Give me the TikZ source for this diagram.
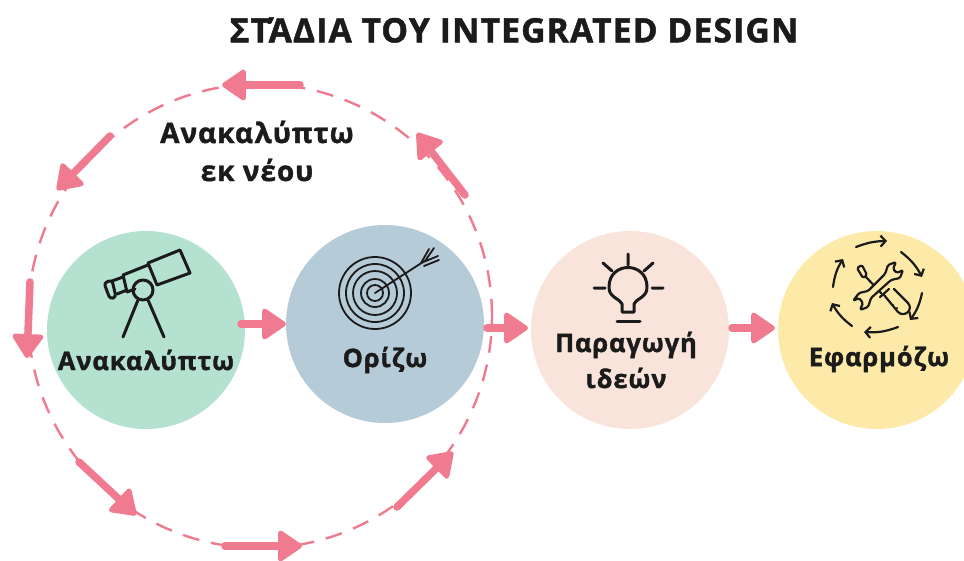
\documentclass[tikz,border=0pt]{standalone}
\usepackage{fontspec}
\setmainfont{Open Sans}[BoldFont={Open Sans Bold},BoldFeatures={FakeBold=1.4},LetterSpace=3.5]
\usetikzlibrary{arrows.meta}
\definecolor{flowpink}{HTML}{F07B90}
\definecolor{ink}{HTML}{1B1B1B}
\definecolor{applyyellow}{HTML}{FDE9A8}
\tikzset{
disc/.style={circle,minimum size=198pt,inner sep=0,outer sep=0},
caption/.style={font=\bfseries\fontsize{25.5}{36}\selectfont,text=ink,align=center,inner sep=0},
flow/.style={flowpink,line width=7.5pt,line cap=round,-{Triangle[round,line width=5pt,length=26pt,width=34pt]}},
icon/.style={ink,line width=3pt,line cap=round,line join=round},
thin icon/.style={ink,line width=1.8pt,line cap=round,line join=round},
cycle arrow/.style={ink,line width=2.2pt,line cap=round,-{Straight Barb[length=5pt,width=11pt,line width=2.2pt]}}
}
\begin{document}
\begin{tikzpicture}[x=1pt,y=-1pt]
\useasboundingbox (0,0) rectangle (964,560);
\clip (0,0) rectangle (964,560);
\node[font=\bfseries\fontsize{33.6}{38}\selectfont,text=ink,inner sep=0] (title) at (514,30) {ΣΤΆΔΙΑ ΤΟΥ INTEGRATED DESIGN};
\node[circle,draw=flowpink,line width=2.4pt,dash pattern=on 17pt off 12pt,minimum size=464pt,inner sep=0] (ring) at (260,316) {};
\node[disc,fill={rgb,255:red,181;green,225;blue,208}] (discover) at (146,330) {};
\node[disc,fill={rgb,255:red,181;green,203;blue,216}] (define) at (385,324) {};
\node[disc,fill={rgb,255:red,249;green,228;blue,219}] (ideate) at (630,330) {};
\node[disc,fill=applyyellow] (apply) at (877,330) {};
\node[caption] (discoverlabel) at (146,360) {Ανακαλύπτω};
\node[caption] (definelabel) at (385,360) {Ορίζω};
\node[caption] (ideatelabel) at (626,360) {Παραγωγή\\ιδεών};
\node[caption] (applylabel) at (879,359) {Εφαρμόζω};
\node[caption,font=\bfseries\fontsize{28}{38}\selectfont] (againlabel) at (257,151) {Ανακαλύπτω\\εκ νέου};
\coordinate (a1) at (300,85); \coordinate (b1) at (222,85);
\coordinate (a2) at (110,136); \coordinate (b2) at (57,190);
\coordinate (a3) at (30,282); \coordinate (b3) at (27,358);
\coordinate (a4) at (79,462); \coordinate (b4) at (136,515);
\coordinate (a5) at (225,546); \coordinate (b5) at (302,546);
\coordinate (a6) at (397,507); \coordinate (b6) at (453,452);
\coordinate (a7) at (465,195); \coordinate (b7) at (417,133);
\foreach \i in {1,...,7}{\draw[flow] (a\i) -- (b\i);}
\draw[flow,shorten <=-4pt] (discover.east |- define.west) -- (define.west);
\coordinate (c1) at (487,328); \coordinate (c2) at (ideate.west |- c1);
\coordinate (c3) at (732,328); \coordinate (c4) at (apply.west |- c3);
\draw[flow,shorten >=3pt] (c1) -- (c2);
\draw[flow,shorten >=3pt] (c3) -- (c4);
\draw[icon] (148,263) -- (180,250) -- (190,273) -- (157,285) -- cycle;
\draw[icon] (123,275) -- (148,265) (127,292) -- (135,289) (123,275) -- (127,292);
\draw[icon,rounded corners=3pt] (112,280) -- (104,283) -- (110,299) -- (116,297) -- cycle;
\draw[icon] (112,281) -- (123,277) (117,294) -- (127,290);
\draw[icon] (143,290) circle (10);
\draw[icon] (138,300) -- (123,337) (148,300) -- (164,337);
\foreach \r in {36,29,22,14,8}{\draw[thin icon] (375,293) circle (\r);}
\draw[thin icon] (375,293) -- (423,262);
\draw[thin icon] (421,263) -- (429,249) (425,261) -- (434,248) (421,263) -- (438,256) (424,266) -- (439,260);
\draw[icon] (622,312) -- (622,304) .. controls (618,297) and (609,298) .. (609,287) .. controls (609,261) and (647,261) .. (647,287) .. controls (647,298) and (638,297) .. (634,304) -- (634,312) -- cycle;
\draw[icon] (617,321) -- (640,321);
\draw[icon] (628,254) -- (628,265) (603,263) -- (612,271) (653,263) -- (644,271) (594,288) -- (605,288) (652,288) -- (663,288);
\draw[cycle arrow] (856,247) to[bend left=10] (887,241);
\draw[cycle arrow] (901,252) to[bend left=12] (922,277);
\draw[cycle arrow] (922,293) to[bend left=12] (910,320);
\draw[cycle arrow] (898,327) to[bend left=12] (864,332);
\draw[cycle arrow] (852,326) to[bend left=12] (832,303);
\draw[cycle arrow] (833,287) to[bend left=12] (843,259);
\draw[thin icon,line width=2.2pt,rounded corners=1.5pt] (857,268) -- (862,265) -- (867,275) -- (863,278) -- cycle;
\draw[thin icon,line width=2.2pt] (866,277) -- (881,293);
\draw[thin icon,line width=2.2pt] (880,297) -- (889,289);
\draw[thin icon,line width=2.2pt] (884,295) -- (898,312) .. controls (904,318) and (914,310) .. (908,303) -- (894,289);
\fill[ink] (893,305) circle (1.2) (897,308) circle (1.2);
\draw[thin icon,line width=2.2pt,fill=applyyellow,rounded corners=1.5pt] (891,280) -- (900,278) -- (903,270) -- (897,273) -- (893,269) -- (896,262) -- (888,265) -- (885,274) -- (868,291) -- (859,293) -- (853,301) -- (859,298) -- (863,303) -- (860,310) -- (868,307) -- (871,298) -- cycle;
\end{tikzpicture}
\end{document}
